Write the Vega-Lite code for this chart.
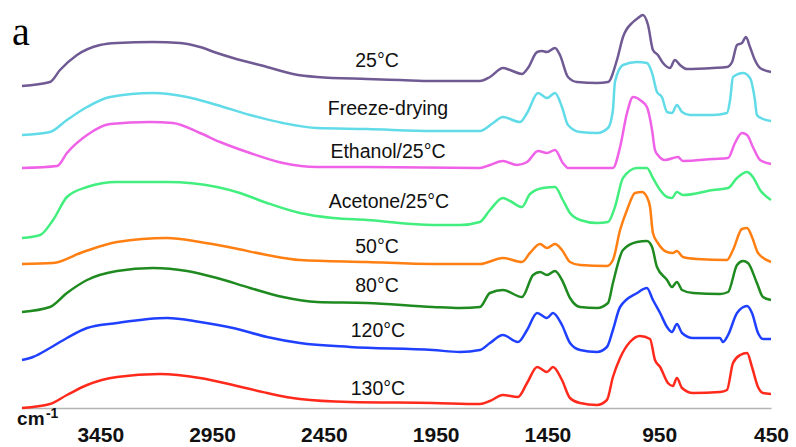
{
  "$schema": "https://vega.github.io/schema/vega-lite/v6.json",
  "width": 749,
  "height": 408,
  "autosize": {"type": "none"},
  "padding": {"left": 22, "top": 0, "right": 25, "bottom": 39},
  "background": "white",
  "config": {"view": {"stroke": null}},
  "datasets": {
    "spectra": [
      {"s":"25°C","wn":3800,"a":322},{"s":"25°C","wn":3675,"a":326},{"s":"25°C","wn":3630,"a":338},{"s":"25°C","wn":3554,"a":353},{"s":"25°C","wn":3451,"a":363},{"s":"25°C","wn":3375,"a":365},{"s":"25°C","wn":3214,"a":366},{"s":"25°C","wn":3093,"a":365},{"s":"25°C","wn":3004,"a":361},{"s":"25°C","wn":2928,"a":355},{"s":"25°C","wn":2856,"a":350},{"s":"25°C","wn":2704,"a":341},{"s":"25°C","wn":2588,"a":334},{"s":"25°C","wn":2481,"a":331},{"s":"25°C","wn":2257,"a":329},{"s":"25°C","wn":2109,"a":328},{"s":"25°C","wn":1962,"a":327},{"s":"25°C","wn":1752,"a":327},{"s":"25°C","wn":1707,"a":331},{"s":"25°C","wn":1649,"a":340},{"s":"25°C","wn":1617,"a":338},{"s":"25°C","wn":1564,"a":334},{"s":"25°C","wn":1537,"a":340},{"s":"25°C","wn":1496,"a":356},{"s":"25°C","wn":1474,"a":357},{"s":"25°C","wn":1452,"a":356},{"s":"25°C","wn":1416,"a":360},{"s":"25°C","wn":1394,"a":353},{"s":"25°C","wn":1358,"a":331},{"s":"25°C","wn":1318,"a":326},{"s":"25°C","wn":1228,"a":325},{"s":"25°C","wn":1179,"a":326},{"s":"25°C","wn":1139,"a":348},{"s":"25°C","wn":1112,"a":371},{"s":"25°C","wn":1067,"a":386},{"s":"25°C","wn":1045,"a":390},{"s":"25°C","wn":1023,"a":393},{"s":"25°C","wn":1000,"a":383},{"s":"25°C","wn":978,"a":358},{"s":"25°C","wn":956,"a":353},{"s":"25°C","wn":933,"a":345},{"s":"25°C","wn":902,"a":340},{"s":"25°C","wn":880,"a":348},{"s":"25°C","wn":857,"a":343},{"s":"25°C","wn":826,"a":339},{"s":"25°C","wn":709,"a":340},{"s":"25°C","wn":647,"a":341},{"s":"25°C","wn":624,"a":346},{"s":"25°C","wn":602,"a":363},{"s":"25°C","wn":580,"a":365},{"s":"25°C","wn":562,"a":371},{"s":"25°C","wn":544,"a":361},{"s":"25°C","wn":522,"a":348},{"s":"25°C","wn":499,"a":340},{"s":"25°C","wn":450,"a":336},

      {"s":"Freeze-drying","wn":3800,"a":273},{"s":"Freeze-drying","wn":3675,"a":276},{"s":"Freeze-drying","wn":3599,"a":288},{"s":"Freeze-drying","wn":3509,"a":301},{"s":"Freeze-drying","wn":3406,"a":311},{"s":"Freeze-drying","wn":3214,"a":315},{"s":"Freeze-drying","wn":3062,"a":311},{"s":"Freeze-drying","wn":2928,"a":303},{"s":"Freeze-drying","wn":2780,"a":293},{"s":"Freeze-drying","wn":2633,"a":285},{"s":"Freeze-drying","wn":2481,"a":280},{"s":"Freeze-drying","wn":2257,"a":279},{"s":"Freeze-drying","wn":1962,"a":277},{"s":"Freeze-drying","wn":1752,"a":277},{"s":"Freeze-drying","wn":1693,"a":285},{"s":"Freeze-drying","wn":1649,"a":291},{"s":"Freeze-drying","wn":1573,"a":286},{"s":"Freeze-drying","wn":1541,"a":295},{"s":"Freeze-drying","wn":1492,"a":315},{"s":"Freeze-drying","wn":1452,"a":310},{"s":"Freeze-drying","wn":1416,"a":315},{"s":"Freeze-drying","wn":1385,"a":301},{"s":"Freeze-drying","wn":1358,"a":283},{"s":"Freeze-drying","wn":1304,"a":276},{"s":"Freeze-drying","wn":1228,"a":275},{"s":"Freeze-drying","wn":1179,"a":280},{"s":"Freeze-drying","wn":1157,"a":298},{"s":"Freeze-drying","wn":1148,"a":326},{"s":"Freeze-drying","wn":1112,"a":343},{"s":"Freeze-drying","wn":1049,"a":346},{"s":"Freeze-drying","wn":1005,"a":345},{"s":"Freeze-drying","wn":982,"a":335},{"s":"Freeze-drying","wn":960,"a":316},{"s":"Freeze-drying","wn":938,"a":311},{"s":"Freeze-drying","wn":915,"a":296},{"s":"Freeze-drying","wn":893,"a":295},{"s":"Freeze-drying","wn":871,"a":303},{"s":"Freeze-drying","wn":848,"a":296},{"s":"Freeze-drying","wn":812,"a":293},{"s":"Freeze-drying","wn":709,"a":293},{"s":"Freeze-drying","wn":647,"a":295},{"s":"Freeze-drying","wn":633,"a":308},{"s":"Freeze-drying","wn":620,"a":331},{"s":"Freeze-drying","wn":575,"a":335},{"s":"Freeze-drying","wn":544,"a":330},{"s":"Freeze-drying","wn":522,"a":308},{"s":"Freeze-drying","wn":513,"a":293},{"s":"Freeze-drying","wn":486,"a":289},{"s":"Freeze-drying","wn":450,"a":287},

      {"s":"Ethanol/25°C","wn":3800,"a":240},{"s":"Ethanol/25°C","wn":3643,"a":242},{"s":"Ethanol/25°C","wn":3599,"a":255},{"s":"Ethanol/25°C","wn":3509,"a":273},{"s":"Ethanol/25°C","wn":3406,"a":284},{"s":"Ethanol/25°C","wn":3228,"a":286},{"s":"Ethanol/25°C","wn":3125,"a":285},{"s":"Ethanol/25°C","wn":3004,"a":275},{"s":"Ethanol/25°C","wn":2914,"a":266},{"s":"Ethanol/25°C","wn":2780,"a":255},{"s":"Ethanol/25°C","wn":2633,"a":245},{"s":"Ethanol/25°C","wn":2481,"a":241},{"s":"Ethanol/25°C","wn":2257,"a":241},{"s":"Ethanol/25°C","wn":1752,"a":240},{"s":"Ethanol/25°C","wn":1707,"a":243},{"s":"Ethanol/25°C","wn":1649,"a":247},{"s":"Ethanol/25°C","wn":1586,"a":243},{"s":"Ethanol/25°C","wn":1541,"a":246},{"s":"Ethanol/25°C","wn":1492,"a":257},{"s":"Ethanol/25°C","wn":1452,"a":255},{"s":"Ethanol/25°C","wn":1416,"a":258},{"s":"Ethanol/25°C","wn":1381,"a":245},{"s":"Ethanol/25°C","wn":1358,"a":240},{"s":"Ethanol/25°C","wn":1157,"a":240},{"s":"Ethanol/25°C","wn":1125,"a":261},{"s":"Ethanol/25°C","wn":1094,"a":295},{"s":"Ethanol/25°C","wn":1067,"a":311},{"s":"Ethanol/25°C","wn":1049,"a":310},{"s":"Ethanol/25°C","wn":1036,"a":308},{"s":"Ethanol/25°C","wn":1005,"a":301},{"s":"Ethanol/25°C","wn":982,"a":278},{"s":"Ethanol/25°C","wn":969,"a":258},{"s":"Ethanol/25°C","wn":956,"a":253},{"s":"Ethanol/25°C","wn":924,"a":248},{"s":"Ethanol/25°C","wn":866,"a":251},{"s":"Ethanol/25°C","wn":844,"a":247},{"s":"Ethanol/25°C","wn":709,"a":249},{"s":"Ethanol/25°C","wn":642,"a":250},{"s":"Ethanol/25°C","wn":611,"a":265},{"s":"Ethanol/25°C","wn":580,"a":275},{"s":"Ethanol/25°C","wn":557,"a":273},{"s":"Ethanol/25°C","wn":531,"a":261},{"s":"Ethanol/25°C","wn":499,"a":248},{"s":"Ethanol/25°C","wn":450,"a":244},

      {"s":"Acetone/25°C","wn":3800,"a":170},{"s":"Acetone/25°C","wn":3719,"a":173},{"s":"Acetone/25°C","wn":3661,"a":188},{"s":"Acetone/25°C","wn":3599,"a":211},{"s":"Acetone/25°C","wn":3509,"a":221},{"s":"Acetone/25°C","wn":3375,"a":226},{"s":"Acetone/25°C","wn":3151,"a":226},{"s":"Acetone/25°C","wn":2928,"a":221},{"s":"Acetone/25°C","wn":2825,"a":215},{"s":"Acetone/25°C","wn":2704,"a":205},{"s":"Acetone/25°C","wn":2557,"a":195},{"s":"Acetone/25°C","wn":2409,"a":190},{"s":"Acetone/25°C","wn":2257,"a":188},{"s":"Acetone/25°C","wn":1962,"a":183},{"s":"Acetone/25°C","wn":1841,"a":183},{"s":"Acetone/25°C","wn":1752,"a":186},{"s":"Acetone/25°C","wn":1707,"a":198},{"s":"Acetone/25°C","wn":1649,"a":210},{"s":"Acetone/25°C","wn":1617,"a":207},{"s":"Acetone/25°C","wn":1564,"a":201},{"s":"Acetone/25°C","wn":1528,"a":214},{"s":"Acetone/25°C","wn":1470,"a":220},{"s":"Acetone/25°C","wn":1416,"a":221},{"s":"Acetone/25°C","wn":1381,"a":208},{"s":"Acetone/25°C","wn":1349,"a":195},{"s":"Acetone/25°C","wn":1304,"a":188},{"s":"Acetone/25°C","wn":1228,"a":185},{"s":"Acetone/25°C","wn":1179,"a":186},{"s":"Acetone/25°C","wn":1148,"a":201},{"s":"Acetone/25°C","wn":1112,"a":230},{"s":"Acetone/25°C","wn":1049,"a":240},{"s":"Acetone/25°C","wn":1005,"a":240},{"s":"Acetone/25°C","wn":978,"a":230},{"s":"Acetone/25°C","wn":946,"a":218},{"s":"Acetone/25°C","wn":915,"a":211},{"s":"Acetone/25°C","wn":893,"a":210},{"s":"Acetone/25°C","wn":871,"a":216},{"s":"Acetone/25°C","wn":844,"a":213},{"s":"Acetone/25°C","wn":709,"a":218},{"s":"Acetone/25°C","wn":642,"a":220},{"s":"Acetone/25°C","wn":602,"a":230},{"s":"Acetone/25°C","wn":557,"a":236},{"s":"Acetone/25°C","wn":531,"a":231},{"s":"Acetone/25°C","wn":499,"a":218},{"s":"Acetone/25°C","wn":450,"a":208},

      {"s":"50°C","wn":3800,"a":144},{"s":"50°C","wn":3661,"a":145},{"s":"50°C","wn":3527,"a":156},{"s":"50°C","wn":3375,"a":166},{"s":"50°C","wn":3151,"a":170},{"s":"50°C","wn":3004,"a":166},{"s":"50°C","wn":2856,"a":160},{"s":"50°C","wn":2704,"a":153},{"s":"50°C","wn":2557,"a":148},{"s":"50°C","wn":2257,"a":146},{"s":"50°C","wn":1962,"a":144},{"s":"50°C","wn":1752,"a":144},{"s":"50°C","wn":1649,"a":150},{"s":"50°C","wn":1564,"a":146},{"s":"50°C","wn":1528,"a":155},{"s":"50°C","wn":1483,"a":164},{"s":"50°C","wn":1452,"a":160},{"s":"50°C","wn":1416,"a":164},{"s":"50°C","wn":1385,"a":158},{"s":"50°C","wn":1349,"a":146},{"s":"50°C","wn":1304,"a":143},{"s":"50°C","wn":1184,"a":142},{"s":"50°C","wn":1157,"a":148},{"s":"50°C","wn":1125,"a":178},{"s":"50°C","wn":1094,"a":198},{"s":"50°C","wn":1058,"a":215},{"s":"50°C","wn":1027,"a":216},{"s":"50°C","wn":1005,"a":211},{"s":"50°C","wn":991,"a":201},{"s":"50°C","wn":978,"a":175},{"s":"50°C","wn":956,"a":165},{"s":"50°C","wn":915,"a":156},{"s":"50°C","wn":889,"a":155},{"s":"50°C","wn":871,"a":157},{"s":"50°C","wn":844,"a":151},{"s":"50°C","wn":781,"a":149},{"s":"50°C","wn":647,"a":148},{"s":"50°C","wn":620,"a":158},{"s":"50°C","wn":580,"a":179},{"s":"50°C","wn":557,"a":180},{"s":"50°C","wn":535,"a":171},{"s":"50°C","wn":508,"a":155},{"s":"50°C","wn":450,"a":146},

      {"s":"80°C","wn":3800,"a":96},{"s":"80°C","wn":3675,"a":101},{"s":"80°C","wn":3599,"a":115},{"s":"80°C","wn":3509,"a":128},{"s":"80°C","wn":3375,"a":137},{"s":"80°C","wn":3214,"a":140},{"s":"80°C","wn":3062,"a":137},{"s":"80°C","wn":2928,"a":130},{"s":"80°C","wn":2780,"a":120},{"s":"80°C","wn":2633,"a":111},{"s":"80°C","wn":2481,"a":106},{"s":"80°C","wn":2257,"a":105},{"s":"80°C","wn":1962,"a":101},{"s":"80°C","wn":1841,"a":100},{"s":"80°C","wn":1752,"a":101},{"s":"80°C","wn":1707,"a":115},{"s":"80°C","wn":1649,"a":118},{"s":"80°C","wn":1564,"a":111},{"s":"80°C","wn":1514,"a":133},{"s":"80°C","wn":1483,"a":136},{"s":"80°C","wn":1452,"a":133},{"s":"80°C","wn":1416,"a":137},{"s":"80°C","wn":1385,"a":128},{"s":"80°C","wn":1349,"a":110},{"s":"80°C","wn":1304,"a":101},{"s":"80°C","wn":1228,"a":100},{"s":"80°C","wn":1179,"a":105},{"s":"80°C","wn":1157,"a":125},{"s":"80°C","wn":1112,"a":158},{"s":"80°C","wn":1049,"a":166},{"s":"80°C","wn":1005,"a":167},{"s":"80°C","wn":982,"a":161},{"s":"80°C","wn":960,"a":141},{"s":"80°C","wn":915,"a":128},{"s":"80°C","wn":893,"a":121},{"s":"80°C","wn":871,"a":126},{"s":"80°C","wn":848,"a":118},{"s":"80°C","wn":799,"a":115},{"s":"80°C","wn":678,"a":114},{"s":"80°C","wn":642,"a":116},{"s":"80°C","wn":602,"a":143},{"s":"80°C","wn":575,"a":147},{"s":"80°C","wn":553,"a":145},{"s":"80°C","wn":513,"a":125},{"s":"80°C","wn":486,"a":111},{"s":"80°C","wn":450,"a":108},

      {"s":"120°C","wn":3800,"a":48},{"s":"120°C","wn":3751,"a":51},{"s":"120°C","wn":3675,"a":60},{"s":"120°C","wn":3599,"a":70},{"s":"120°C","wn":3509,"a":80},{"s":"120°C","wn":3375,"a":85},{"s":"120°C","wn":3151,"a":90},{"s":"120°C","wn":3004,"a":86},{"s":"120°C","wn":2856,"a":80},{"s":"120°C","wn":2704,"a":71},{"s":"120°C","wn":2557,"a":65},{"s":"120°C","wn":2333,"a":61},{"s":"120°C","wn":1962,"a":58},{"s":"120°C","wn":1841,"a":56},{"s":"120°C","wn":1752,"a":58},{"s":"120°C","wn":1707,"a":65},{"s":"120°C","wn":1649,"a":73},{"s":"120°C","wn":1582,"a":66},{"s":"120°C","wn":1541,"a":78},{"s":"120°C","wn":1496,"a":95},{"s":"120°C","wn":1452,"a":90},{"s":"120°C","wn":1425,"a":95},{"s":"120°C","wn":1385,"a":83},{"s":"120°C","wn":1349,"a":65},{"s":"120°C","wn":1304,"a":58},{"s":"120°C","wn":1228,"a":56},{"s":"120°C","wn":1184,"a":61},{"s":"120°C","wn":1157,"a":78},{"s":"120°C","wn":1125,"a":101},{"s":"120°C","wn":1049,"a":115},{"s":"120°C","wn":1005,"a":120},{"s":"120°C","wn":978,"a":108},{"s":"120°C","wn":946,"a":95},{"s":"120°C","wn":915,"a":81},{"s":"120°C","wn":893,"a":76},{"s":"120°C","wn":871,"a":84},{"s":"120°C","wn":848,"a":75},{"s":"120°C","wn":799,"a":70},{"s":"120°C","wn":678,"a":70},{"s":"120°C","wn":665,"a":66},{"s":"120°C","wn":642,"a":73},{"s":"120°C","wn":602,"a":95},{"s":"120°C","wn":557,"a":102},{"s":"120°C","wn":535,"a":95},{"s":"120°C","wn":508,"a":75},{"s":"120°C","wn":486,"a":69},{"s":"120°C","wn":450,"a":69},

      {"s":"130°C","wn":3800,"a":0},{"s":"130°C","wn":3675,"a":4},{"s":"130°C","wn":3599,"a":13},{"s":"130°C","wn":3509,"a":23},{"s":"130°C","wn":3375,"a":31},{"s":"130°C","wn":3183,"a":34},{"s":"130°C","wn":3004,"a":30},{"s":"130°C","wn":2856,"a":23},{"s":"130°C","wn":2704,"a":15},{"s":"130°C","wn":2557,"a":9},{"s":"130°C","wn":2333,"a":6},{"s":"130°C","wn":1962,"a":5},{"s":"130°C","wn":1752,"a":4},{"s":"130°C","wn":1707,"a":7},{"s":"130°C","wn":1649,"a":13},{"s":"130°C","wn":1582,"a":11},{"s":"130°C","wn":1541,"a":25},{"s":"130°C","wn":1496,"a":41},{"s":"130°C","wn":1452,"a":36},{"s":"130°C","wn":1425,"a":41},{"s":"130°C","wn":1385,"a":28},{"s":"130°C","wn":1349,"a":10},{"s":"130°C","wn":1304,"a":5},{"s":"130°C","wn":1228,"a":3},{"s":"130°C","wn":1184,"a":8},{"s":"130°C","wn":1157,"a":31},{"s":"130°C","wn":1125,"a":50},{"s":"130°C","wn":1081,"a":66},{"s":"130°C","wn":1036,"a":72},{"s":"130°C","wn":991,"a":69},{"s":"130°C","wn":969,"a":48},{"s":"130°C","wn":946,"a":41},{"s":"130°C","wn":911,"a":25},{"s":"130°C","wn":889,"a":22},{"s":"130°C","wn":871,"a":30},{"s":"130°C","wn":848,"a":20},{"s":"130°C","wn":799,"a":15},{"s":"130°C","wn":678,"a":16},{"s":"130°C","wn":647,"a":18},{"s":"130°C","wn":620,"a":45},{"s":"130°C","wn":588,"a":53},{"s":"130°C","wn":557,"a":55},{"s":"130°C","wn":535,"a":41},{"s":"130°C","wn":508,"a":21},{"s":"130°C","wn":486,"a":15},{"s":"130°C","wn":450,"a":14}
    ],
    "labels": [
      {"s":"25°C","wn":2212,"a":341},
      {"s":"Freeze-drying","wn":2163,"a":293},
      {"s":"Ethanol/25°C","wn":2163,"a":250},
      {"s":"Acetone/25°C","wn":2159,"a":200},
      {"s":"50°C","wn":2212,"a":155},
      {"s":"80°C","wn":2212,"a":116},
      {"s":"120°C","wn":2208,"a":71},
      {"s":"130°C","wn":2208,"a":13}
    ]
  },
  "layer": [
    {
      "data": {"name": "spectra"},
      "mark": {"type": "line", "strokeWidth": 2.5, "interpolate": "monotone", "clip": false},
      "encoding": {
        "x": {
          "field": "wn", "type": "quantitative",
          "scale": {"domain": [450, 3800], "reverse": true, "nice": false, "zero": false},
          "axis": {
            "values": [3450, 2950, 2450, 1950, 1450, 950, 450],
            "format": "d", "title": null, "grid": false, "ticks": false,
            "domainColor": "#b4b4b4", "domainWidth": 1.5,
            "labelFont": "Liberation Sans", "labelFontWeight": "bold", "labelFontSize": 21,
            "labelColor": "#111111", "labelBaseline": "alphabetic", "labelPadding": 33,
            "labelFlush": false, "labelOverlap": false
          }
        },
        "y": {
          "field": "a", "type": "quantitative",
          "scale": {"domain": [0, 408], "nice": false, "zero": false},
          "axis": null
        },
        "order": {"field": "wn", "type": "quantitative", "sort": "descending"},
        "color": {
          "field": "s", "type": "nominal",
          "scale": {
            "domain": ["25°C", "Freeze-drying", "Ethanol/25°C", "Acetone/25°C", "50°C", "80°C", "120°C", "130°C"],
            "range": ["#6f5a93", "#62dbe9", "#ef62e7", "#42ef7e", "#ff7f12", "#1f8a1f", "#2040ff", "#ff2a1c"]
          },
          "legend": null
        }
      }
    },
    {
      "data": {"name": "labels"},
      "mark": {"type": "text", "font": "Liberation Sans", "fontSize": 19.5, "align": "center", "baseline": "alphabetic", "color": "#111111"},
      "encoding": {
        "x": {"field": "wn", "type": "quantitative"},
        "y": {"field": "a", "type": "quantitative"},
        "text": {"field": "s"}
      }
    },
    {
      "data": {"values": [{"t": "a", "wn": 3845, "a": 363}]},
      "mark": {"type": "text", "font": "Liberation Serif", "fontSize": 40, "align": "left", "baseline": "alphabetic", "color": "#000000"},
      "encoding": {
        "x": {"field": "wn", "type": "quantitative"},
        "y": {"field": "a", "type": "quantitative"},
        "text": {"field": "t"}
      }
    },
    {
      "data": {"values": [{"t": "cm", "wn": 3822, "a": -17}]},
      "mark": {"type": "text", "font": "Liberation Sans", "fontWeight": "bold", "fontSize": 19, "align": "left", "baseline": "alphabetic", "color": "#111111"},
      "encoding": {
        "x": {"field": "wn", "type": "quantitative"},
        "y": {"field": "a", "type": "quantitative"},
        "text": {"field": "t"}
      }
    },
    {
      "data": {"values": [{"t": "-1", "wn": 3693, "a": -10}]},
      "mark": {"type": "text", "font": "Liberation Sans", "fontWeight": "bold", "fontSize": 14, "align": "left", "baseline": "alphabetic", "color": "#111111"},
      "encoding": {
        "x": {"field": "wn", "type": "quantitative"},
        "y": {"field": "a", "type": "quantitative"},
        "text": {"field": "t"}
      }
    }
  ]
}
